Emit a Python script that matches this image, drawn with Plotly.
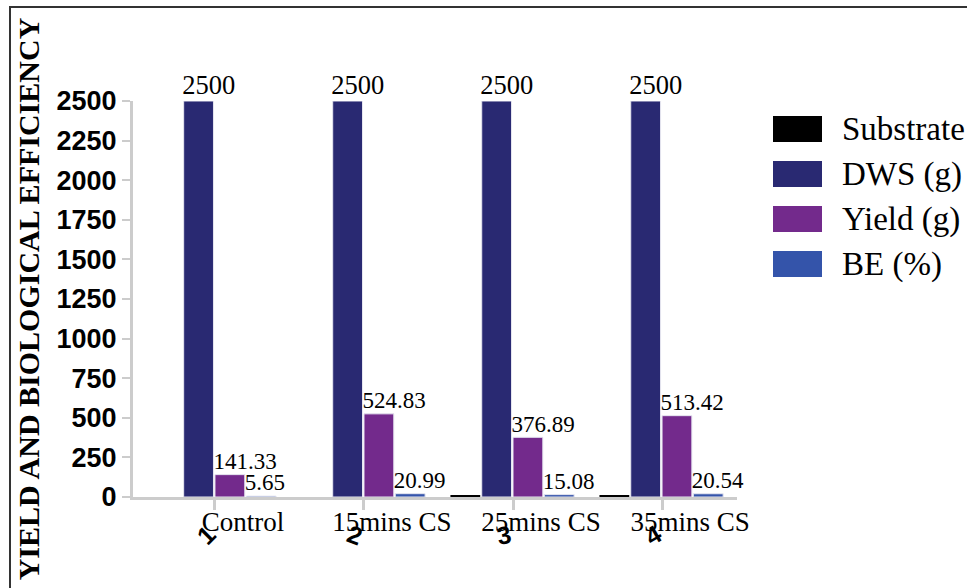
import plotly.graph_objects as go

# ---- data ----
categories = ["Control", "15mins CS", "25mins CS", "35mins CS"]
group_numbers = ["1", "2", "3", "4"]
series_names = ["Substrate", "DWS (g)", "Yield (g)", "BE (%)"]
substrate = [0, 0, 10, 10]
dws = [2500, 2500, 2500, 2500]
yield_g = [141.33, 524.83, 376.89, 513.42]
be_pct = [5.65, 20.99, 15.08, 20.54]
y_ticks = [0, 250, 500, 750, 1000, 1250, 1500, 1750, 2000, 2250, 2500]

# ---- styling ----
colors = ["#000000", "#292972", "#732a8c", "#3454aa"]
outline = [0, 1, 1, 1]
label_sizes = [23, 26.5, 23, 23]
show_labels = [False, True, True, True]
digit_angles = [-45, 20, -10, -30]

W, H = 967, 588
ML, MR, MT, MB = 133, 230, 101, 91
PW, PH = W - ML - MR, H - MT - MB

bar_w = 0.2
offsets = [-0.42, -0.21, 0.0, 0.21]
xs = list(range(len(categories)))

serif = "Liberation Serif, Times New Roman, serif"
sans = "Liberation Sans, Arial, sans-serif"


def px_x(px):
    return (px - ML) / PW


def px_y(py):
    return (H - MB - py) / PH


def fmt(v):
    return str(int(v)) if float(v).is_integer() else f"{v:.2f}"


fig = go.Figure()
all_series = [substrate, dws, yield_g, be_pct]
for k, (name, vals) in enumerate(zip(series_names, all_series)):
    fig.add_trace(go.Bar(
        x=xs, y=vals, name=name, width=bar_w, offset=offsets[k],
        marker=dict(color=colors[k], line=dict(color="#e6e6f0", width=outline[k])),
        showlegend=False,
    ))
    if show_labels[k]:
        fig.add_trace(go.Scatter(
            x=[x + offsets[k] - 0.01 for x in xs], y=vals, mode="text",
            text=[fmt(v) for v in vals],
            textposition="top right",
            textfont=dict(family=serif, size=label_sizes[k], color="black"),
            showlegend=False, cliponaxis=False, hoverinfo="skip",
        ))

shapes = []
annotations = []

# outer frame
shapes.append(dict(type="rect", xref="paper", yref="paper",
                   x0=px_x(10), x1=px_x(975), y0=px_y(600), y1=px_y(7),
                   line=dict(color="#333333", width=2), fillcolor="rgba(0,0,0,0)",
                   layer="below"))

# legend
for i, (name, c) in enumerate(zip(series_names, colors)):
    cy = 129 + 45 * i
    shapes.append(dict(type="rect", xref="paper", yref="paper",
                       x0=px_x(773), x1=px_x(822), y0=px_y(cy + 13), y1=px_y(cy - 13),
                       fillcolor=c, line=dict(width=0)))
    annotations.append(dict(xref="paper", yref="paper", x=px_x(840), y=px_y(cy),
                            xanchor="left", yanchor="middle", showarrow=False,
                            text=name, font=dict(family=serif, size=33, color="black")))

# rotated group numbers under the category labels
for x, d, a in zip(xs, group_numbers, digit_angles):
    annotations.append(dict(x=x, xref="x", yref="paper", y=px_y(535),
                            xshift=-9, xanchor="center", yanchor="middle",
                            showarrow=False, text=f"<b>{d}</b>", textangle=a,
                            font=dict(family=sans, size=25, color="black")))

fig.update_layout(
    width=W, height=H,
    margin=dict(l=ML, r=MR, t=MT, b=MB, autoexpand=False),
    paper_bgcolor="white", plot_bgcolor="white",
    barmode="overlay",
    showlegend=False,
    shapes=shapes, annotations=annotations,
    xaxis=dict(
        range=[-0.55, 3.503], tickvals=xs, ticktext=categories,
        showgrid=False, zeroline=False,
        showline=True, linecolor="#cccccc", linewidth=3,
        ticks="outside", ticklen=10, tickwidth=3, tickcolor="#cccccc",
        ticklabelshift=28, ticklabelstandoff=-11,
        tickfont=dict(family=serif, size=27, color="black"),
    ),
    yaxis=dict(
        range=[0, 2500], tickvals=y_ticks,
        showgrid=False, zeroline=False,
        showline=True, linecolor="#cccccc", linewidth=3,
        ticks="outside", ticklen=8, tickwidth=2, tickcolor="#cccccc",
        tickfont=dict(family=sans, size=27, color="black", weight="bold"),
        title=dict(text="YIELD AND BIOLOGICAL EFFICIENCY", standoff=9,
                   font=dict(family=serif, size=30, color="black", weight="bold")),
    ),
)

fig.write_html("out.html")
